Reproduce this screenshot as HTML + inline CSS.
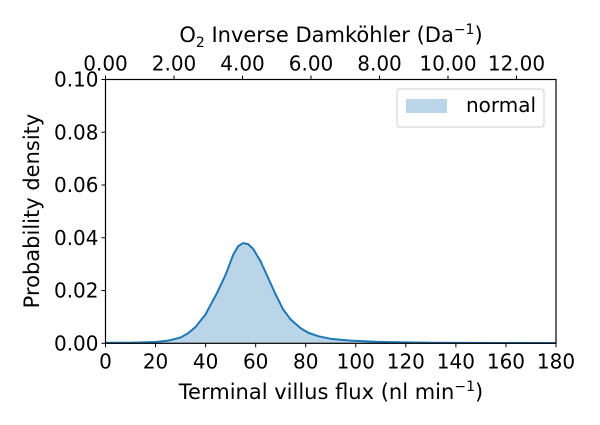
<!DOCTYPE html>
<html><head><meta charset="utf-8"><style>
html,body{margin:0;padding:0;background:#fff;}
svg{display:block;font-family:"DejaVu Sans","Liberation Sans",sans-serif;}
</style></head><body>
<svg id="chart" width="600" height="425" viewBox="0 0 600 425" xmlns="http://www.w3.org/2000/svg">
</svg>
<script>
const xTicks = [0,20,40,60,80,100,120,140,160,180];
const yTicks = [0.00,0.02,0.04,0.06,0.08,0.10];
const topTicks = [0,2,4,6,8,10,12];
const fluxX = [0,10,20,25,30,33,36,40,44.5,48,51,53,55,57,59,62,64.5,68,71,74,78,81,85,90,98,110,130,180];
const densityY = [0.0002,0.0002,0.0005,0.001,0.0022,0.0038,0.0062,0.011,0.019,0.026,0.0335,0.0368,0.038,0.0376,0.0358,0.031,0.0258,0.0185,0.0128,0.009,0.0057,0.004,0.0027,0.0017,0.001,0.0005,0.0002,0.0001];

const L=105.5,R=556,T=79.5,B=343.3;
const xS=v=>L+(v-0)/(180-0)*(R-L);
const yS=v=>B-(v-0)/(0.1-0)*(B-T);
const topS=v=>L+v*34.25;
const NS="http://www.w3.org/2000/svg";
const svg=document.getElementById('chart');
function mk(tag,attrs,parent){const e=document.createElementNS(NS,tag);for(const k in attrs)e.setAttribute(k,attrs[k]);(parent||svg).appendChild(e);return e;}

let pts=fluxX.map((x,i)=>xS(x).toFixed(2)+','+yS(densityY[i]).toFixed(2));
const area=mk('polygon',{points:pts.join(' ')+' '+xS(180)+','+B+' '+xS(0)+','+B,fill:'#bad5e8'});


const line=mk('polyline',{points:pts.join(' '),fill:'none',stroke:'#1f77b4','stroke-width':2,'stroke-linejoin':'round'});



const frame=mk('rect',{x:L,y:T,width:R-L,height:B-T,fill:'none',stroke:'#000','stroke-width':1.2});



xTicks.forEach(v=>{
  const x=xS(v);
  mk('line',{x1:x,x2:x,y1:B,y2:B+4,stroke:'#000','stroke-width':1});
  const t=mk('text',{x:x,y:B+25,'text-anchor':'middle','font-size':20});
  t.textContent=v;
  
  
});
yTicks.forEach(v=>{
  const y=yS(v);
  mk('line',{x1:L-4,x2:L,y1:y,y2:y,stroke:'#000','stroke-width':1});
  const t=mk('text',{x:L-7,y:y+7,'text-anchor':'end','font-size':20});
  t.textContent=v.toFixed(2);
  
  
});
topTicks.forEach(v=>{
  const x=topS(v);
  mk('line',{x1:x,x2:x,y1:T-4,y2:T,stroke:'#000','stroke-width':1});
  const t=mk('text',{x:x,y:T-9,'text-anchor':'middle','font-size':20});
  t.textContent=v.toFixed(2);
  
  
});
</script>
<svg style="position:absolute;left:0;top:0" width="600" height="425">
<text x="331" y="399" text-anchor="middle" font-size="21" font-family="DejaVu Sans,Liberation Sans,sans-serif">Terminal villus flux (nl min<tspan dy="-8" font-size="14">−1</tspan><tspan dy="8">)</tspan></text>
<text x="331" y="42" text-anchor="middle" font-size="21" font-family="DejaVu Sans,Liberation Sans,sans-serif">O<tspan dy="5" font-size="14">2</tspan><tspan dy="-5"> Inverse Damköhler (Da</tspan><tspan dy="-8" font-size="14">−1</tspan><tspan dy="8">)</tspan></text>
<text transform="translate(39,211) rotate(-90)" text-anchor="middle" font-size="21" font-family="DejaVu Sans,Liberation Sans,sans-serif">Probability density</text>
<g>
<rect x="397" y="89" width="147" height="38" rx="3" fill="#fff" stroke="#ccc" stroke-width="1"/>
<rect x="406" y="99" width="41" height="14" fill="#bad5e8"/>
<text x="466" y="112" font-size="20" font-family="DejaVu Sans,Liberation Sans,sans-serif">normal</text>
</g>
</svg>
</body></html>
